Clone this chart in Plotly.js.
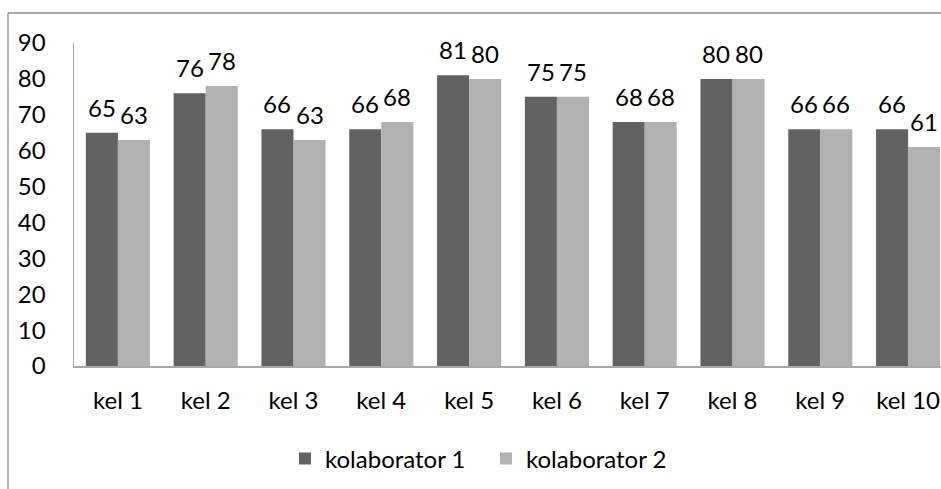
<!DOCTYPE html>
<html>
<head>
<meta charset="utf-8">
<script src="https://cdn.plot.ly/plotly-3.0.1.min.js"></script>
<style>
  html, body { margin: 0; padding: 0; background: #ffffff; overflow: hidden; }
  #wrap { width: 941px; height: 489px; overflow: hidden; position: relative; }
  #chart { width: 952px; height: 489px; }
</style>
</head>
<body>
<div id="wrap"><div id="chart"></div></div>
<script>
// Scores given by two collaborators for each group
const categories = ["kel 1", "kel 2", "kel 3", "kel 4", "kel 5", "kel 6", "kel 7", "kel 8", "kel 9", "kel 10"];
const kolaborator1 = [65, 76, 66, 66, 81, 75, 68, 80, 66, 66];
const kolaborator2 = [63, 78, 63, 68, 80, 75, 68, 80, 66, 61];
const seriesNames = ["kolaborator 1", "kolaborator 2"];
const yTicks = [0, 10, 20, 30, 40, 50, 60, 70, 80, 90];

const FONT = "Lato, 'Open Sans', sans-serif";
const FONT_SIZE = 24;
const textFont = { family: FONT, size: FONT_SIZE, color: "#000000" };

const BARGAP = 0.27;
const PLOT_W = 878;   // plot area width in px (figure is wider than the visible frame)

function barTrace(name, values, color) {
  return {
    type: "bar",
    name: name,
    x: categories,
    y: values,
    marker: { color: color, line: { width: 0 } },
    hoverinfo: "x+y+name"
  };
}

const data = [
  barTrace(seriesNames[0], kolaborator1, "#626262"),
  barTrace(seriesNames[1], kolaborator2, "#b1b1b1")
];

// Value labels above each bar, shifted sideways onto their bar of the group
const catWidth = PLOT_W / categories.length;
const barWidth = catWidth * (1 - BARGAP) / 2;
const valueLabels = [];
[kolaborator1, kolaborator2].forEach(function (values, s) {
  const shift = (s === 0 ? -0.5 : 0.5) * barWidth;
  values.forEach(function (v, i) {
    valueLabels.push({
      x: categories[i], y: v, xref: "x", yref: "y",
      text: String(v), showarrow: false,
      xanchor: "center", yanchor: "bottom",
      xshift: shift, yshift: 9,
      font: textFont
    });
  });
});

// Outer frame of the chart area (left and top edges)
const frameColor = "#8c8c8c";
const L = 74, T = 43, B = 123, H = 489;
const plotH = H - T - B;
const frameX = (8 - L) / PLOT_W;
const frameTop = (H - B - 13) / plotH;

const layout = {
  width: L + PLOT_W,
  height: H,
  margin: { l: L, r: 0, t: T, b: B, pad: 0 },
  paper_bgcolor: "#ffffff",
  plot_bgcolor: "#ffffff",
  font: { family: FONT, size: FONT_SIZE, color: "#000000" },
  barmode: "group",
  bargap: BARGAP,
  bargroupgap: 0,
  showlegend: true,
  legend: {
    orientation: "h",
    x: (285 - L) / PLOT_W,
    xanchor: "left",
    y: -(459 - (H - B)) / plotH,
    yanchor: "middle",
    font: textFont,
    itemwidth: 30,
    entrywidth: 156,
    traceorder: "normal"
  },
  xaxis: {
    type: "category",
    showgrid: false,
    zeroline: false,
    showline: true,
    linecolor: "#a8a8a8",
    linewidth: 1.5,
    ticks: "",
    ticklabelstandoff: 13,
    tickfont: textFont,
    fixedrange: true
  },
  yaxis: {
    range: [0, 90],
    tickvals: yTicks,
    ticktext: yTicks.map(String),
    showgrid: false,
    zeroline: false,
    showline: true,
    linecolor: "#a8a8a8",
    linewidth: 1.5,
    ticks: "",
    ticklabelstandoff: 22,
    tickfont: textFont,
    fixedrange: true
  },
  annotations: valueLabels,
  shapes: [
    { type: "line", xref: "paper", yref: "paper",
      x0: frameX, x1: frameX, y0: frameTop, y1: -0.45,
      line: { color: frameColor, width: 1.3 } },
    { type: "line", xref: "paper", yref: "paper",
      x0: frameX, x1: 1.05, y0: frameTop, y1: frameTop,
      line: { color: frameColor, width: 1.3 } }
  ]
};

Plotly.newPlot("chart", data, layout, { displayModeBar: false, staticPlot: true });
</script>
</body>
</html>
